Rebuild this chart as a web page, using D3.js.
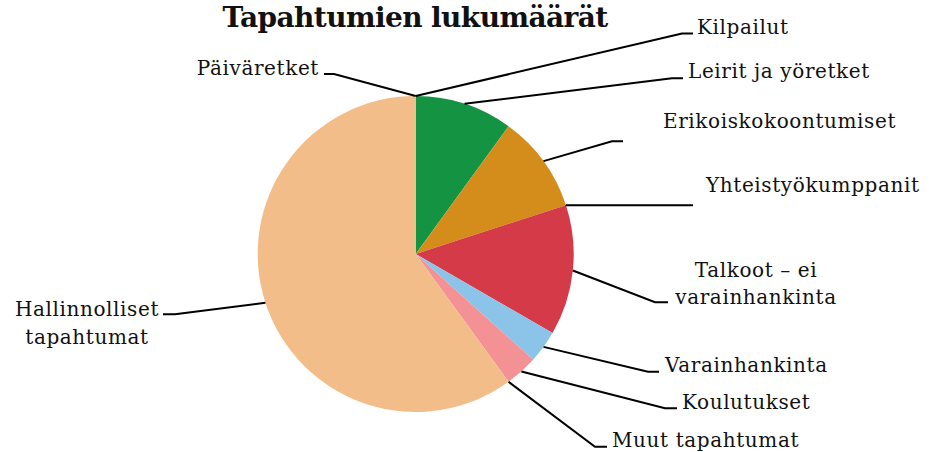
<!DOCTYPE html>
<html><head><meta charset="utf-8">
<script src="https://cdn.jsdelivr.net/npm/d3@7"></script>
<style>
html,body{margin:0;padding:0;background:#fff;}
svg{display:block;}
text{font-family:"DejaVu Serif",serif;fill:#111;}
</style></head>
<body><svg id="c" width="932" height="452"></svg>
<script>
const categories = ["Päiväretket","Kilpailut","Leirit ja yöretket","Erikoiskokoontumiset","Yhteistyökumppanit","Talkoot – ei varainhankinta","Varainhankinta","Koulutukset","Muut tapahtumat","Hallinnolliset tapahtumat"];
const values = [0,0,3,3,0,4,1,1,0,18];
const colors = ["#6a8fc9","#7a5ba8","#149443","#d48d1b","#2aa7a0","#d53a48","#8bc4e8","#f39194","#999999","#f3bd89"];
const title = "Tapahtumien lukumäärät";

// label layout: elbow point, line end, text lines, text x, first baseline, anchor
const labelLayout = [
  {elbow:[334,74], end:[324,74], lines:["Päiväretket"], tx:319, ty:75, anchor:"end"},
  {elbow:[682,33.5], end:[693,33.5], lines:["Kilpailut"], tx:697, ty:34, anchor:"start"},
  {elbow:[672,78.3], end:[683,78.3], lines:["Leirit ja yöretket"], tx:688, ty:78, anchor:"start"},
  {elbow:[612,141.3], end:[623,141.3], lines:["Erikoiskokoontumiset"], tx:663, ty:128, anchor:"start"},
  {elbow:[566,205.3], end:[693,205.3], lines:["Yhteistyökumppanit"], tx:706, ty:191.5, anchor:"start"},
  {elbow:[655,302.3], end:[668,302.3], lines:["Talkoot – ei","varainhankinta"], tx:756, ty:276.5, anchor:"middle"},
  {elbow:[648,371.7], end:[659,371.7], lines:["Varainhankinta"], tx:665, ty:371.5, anchor:"start"},
  {elbow:[665,408.3], end:[677,408.3], lines:["Koulutukset"], tx:682, ty:409.3, anchor:"start"},
  {elbow:[595,446.7], end:[607,446.7], lines:["Muut tapahtumat"], tx:612, ty:447, anchor:"start"},
  {elbow:[175,314.3], end:[163,314.3], lines:["Hallinnolliset","tapahtumat"], tx:87, ty:316, anchor:"middle"}
];

const svg = d3.select("#c");
const cx = 415.7, cy = 254, R = 158;

svg.append("text").attr("x",415).attr("y",26.5).attr("text-anchor","middle")
  .style("font-weight","bold").style("font-size","28px").style("letter-spacing","-0.6px").text(title);

const pie = d3.pie().sort(null).value(d=>d)(values);
const arc = d3.arc().innerRadius(0).outerRadius(R);
const g = svg.append("g").attr("transform",`translate(${cx},${cy})`);
g.selectAll("path.s").data(pie).join("path").attr("class","s")
  .attr("d",arc).attr("fill",(d,i)=>colors[i]);

const lg = svg.append("g");
pie.forEach((d,i)=>{
  const L = labelLayout[i];
  const mid = (d.startAngle+d.endAngle)/2;
  const p = [cx + R*Math.sin(mid), cy - R*Math.cos(mid)];
  lg.append("polyline").attr("points",[p,L.elbow,L.end].map(q=>q.join(",")).join(" "))
    .attr("fill","none").attr("stroke","#000").attr("stroke-width",2);
  const t = lg.append("text").attr("x",L.tx).attr("y",L.ty).attr("text-anchor",L.anchor)
    .style("font-size","20px").style("letter-spacing","0.6px");
  L.lines.forEach((s,j)=>t.append("tspan").attr("x",L.tx).attr("dy",j?27.5:0).text(s));
});
</script></body></html>
